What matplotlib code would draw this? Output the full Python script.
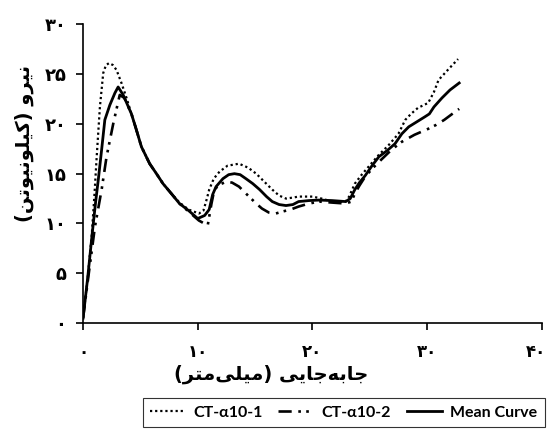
import matplotlib.pyplot as plt
from matplotlib.transforms import ScaledTranslation

# --------------------------------------
# data (displacement mm, force kN)

x_ct1 = [0, 0.4, 0.75, 1.0, 1.19, 1.47, 1.76, 2.0, 2.28, 2.6, 2.92, 3.35, 3.79,
         4.22, 4.65, 5.09, 5.81, 6.4, 6.97, 7.7, 8.41, 9.2, 10.1, 10.5, 10.8,
         11.0, 11.4, 11.9, 12.6, 13.6, 14.4, 15.1, 15.8, 16.5, 17.1, 17.7, 18.3,
         18.8, 20.0, 20.8, 21.7, 22.9, 23.2, 23.7, 24.3, 24.9, 25.8, 26.6, 27.5,
         28.1, 28.6, 29.2, 30.1, 30.6, 31.0, 31.8, 32.7]
y_ct1 = [0.5, 4.5, 8.7, 13.0, 16.7, 21.7, 25.1, 25.9, 26.1, 25.9, 25.4, 24.1, 22.6,
         21.0, 19.4, 17.7, 16.0, 15.0, 14.0, 13.0, 12.1, 11.4, 11.0, 11.3, 12.5,
         13.4, 14.5, 15.2, 15.8, 16.0, 15.6, 15.0, 14.2, 13.4, 12.8, 12.5, 12.6,
         12.7, 12.7, 12.5, 12.2, 12.2, 12.7, 14.0, 14.9, 15.7, 16.9, 17.8, 19.0,
         20.4, 21.0, 21.6, 22.1, 23.2, 24.4, 25.4, 26.5]

x_ct2 = [0, 0.5, 1.04, 1.62, 2.05, 2.63, 3.06, 3.2, 3.6, 4.22, 4.65, 5.09, 5.81,
         6.4, 6.97, 7.7, 8.41, 9.4, 10.1, 10.87, 11.2, 11.45, 11.9, 12.5, 13.0,
         13.6, 14.3, 15.1, 15.6, 16.2, 16.8, 17.4, 18.1, 18.8, 19.7, 20.6, 21.7,
         22.9, 23.4, 23.7, 24.1, 24.6, 25.3, 26.0, 26.9, 27.8, 28.9, 29.5, 30.1,
         30.8, 31.5, 32.2, 32.8]
y_ct2 = [0.5, 5.0, 9.7, 13.4, 16.7, 20.0, 22.2, 22.9, 22.6, 21.0, 19.4, 17.7, 16.0,
         15.0, 14.0, 13.0, 12.0, 11.0, 10.3, 9.8, 12.0, 13.4, 13.9, 14.2, 14.1,
         13.7, 12.9, 12.0, 11.5, 11.1, 11.0, 11.2, 11.4, 11.7, 12.0, 12.2, 12.1,
         12.0, 12.2, 13.0, 13.8, 14.7, 15.6, 16.4, 17.4, 18.2, 18.9, 19.2, 19.5,
         19.9, 20.4, 21.0, 21.5]

x_mean = [0, 0.4, 0.8, 1.1, 1.33, 1.62, 1.9, 2.34, 2.78, 3.06, 3.5, 4.22, 4.65,
          5.09, 5.81, 6.4, 6.97, 7.7, 8.41, 9.2, 10.0, 10.6, 11.0, 11.3, 11.6,
          12.2, 12.7, 13.2, 13.7, 14.2, 14.8, 15.4, 16.0, 16.5, 17.1, 17.7, 18.3,
          18.8, 19.7, 20.6, 21.7, 22.9, 23.3, 23.7, 24.1, 24.6, 25.2, 25.8, 26.5,
          27.2, 27.8, 28.4, 29.1, 29.8, 30.2, 30.6, 31.3, 32.0, 32.8]
y_mean = [0.5, 4.5, 9.0, 12.2, 14.4, 17.4, 20.4, 21.9, 23.1, 23.7, 22.9, 21.0, 19.4,
          17.7, 16.0, 15.0, 14.0, 13.0, 12.0, 11.3, 10.5, 10.8, 11.4, 12.9, 13.7,
          14.5, 14.9, 15.0, 14.9, 14.5, 14.0, 13.4, 12.7, 12.2, 11.9, 11.8, 11.9,
          12.2, 12.3, 12.35, 12.3, 12.2, 12.5, 13.4, 14.1, 14.8, 15.8, 16.7, 17.3,
          18.0, 19.0, 19.7, 20.2, 20.7, 21.0, 21.7, 22.6, 23.4, 24.1]

x_ticks = [0, 10, 20, 30, 40]
y_ticks = [0, 5, 10, 15, 20, 25, 30]
x_tick_labels = ["۰", "۱۰", "۲۰", "۳۰", "۴۰"]
y_tick_labels = ["۰", "۵", "۱۰", "۱۵", "۲۰", "۲۵", "۳۰"]

# Persian labels written in shaped (presentation) forms, visual order,
# because matplotlib does no Arabic shaping
x_label = "(\uFEAE\uFE98\uFEE3\uFBFD\uFEE0\uFBFF\uFEE3) \uFBFD\uFBFE\uFE8E\uFE9F\uFEEA\uFE91\uFE8E\uFE9F"
y_label = "(\uFEE6\uFE97\uFEEE\uFBFF\uFEE7\uFEEE\uFEE0\uFBFF\uFB90) \uFEED\uFEAE\uFBFF\uFEE7"

series_names = ["CT-\u03b110-1", "CT-\u03b110-2", "Mean Curve"]

# --------------------------------------

fig = plt.figure(figsize=(5.5, 4.32), dpi=100)
ax = fig.add_axes([0.151, 0.252, 0.834, 0.692])

l1, = ax.plot(x_ct1, y_ct1, color="black", lw=1.6, linestyle=(0, (1, 1.3)))
l2, = ax.plot(x_ct2, y_ct2, color="black", lw=1.9,
              linestyle=(0, (5, 2.5, 1, 2, 1, 2.5)))
l3, = ax.plot(x_mean, y_mean, color="black", lw=2.0)

ax.set_xlim(0, 40)
ax.set_ylim(0, 30)
ax.spines["top"].set_visible(False)
ax.spines["right"].set_visible(False)
ax.spines["left"].set_linewidth(1.2)
ax.spines["bottom"].set_linewidth(1.2)

ax.set_xticks(x_ticks)
ax.set_xticklabels(x_tick_labels, fontsize=12, fontweight="bold")
ax.set_yticks(y_ticks)
ax.set_yticklabels(y_tick_labels, fontsize=13, fontweight="bold")
ax.tick_params(axis="x", direction="out", length=5, width=1.2, pad=9)
ax.tick_params(axis="y", direction="out", length=5, width=1.2, pad=7)

# last x label sits at the right edge of the figure, nudge it in a little
last = ax.get_xticklabels()[-1]
last.set_transform(last.get_transform() + ScaledTranslation(-4 / 72, 0, fig.dpi_scale_trans))

ax.set_xlabel(x_label, fontsize=14, fontweight="bold")
ax.xaxis.set_label_coords(0.41, -0.14)
ax.set_ylabel(y_label, fontsize=14, fontweight="bold")
ax.yaxis.set_label_coords(-0.108, 0.6)

leg = fig.legend([l1, l2, l3], series_names, loc="lower right",
                 bbox_to_anchor=(0.99, 0.012), ncol=3, frameon=True,
                 fancybox=False, edgecolor="black", handlelength=2.2,
                 columnspacing=1.0, handletextpad=0.5, borderpad=0.45,
                 borderaxespad=0,
                 prop={"family": ["Lato", "DejaVu Sans"], "weight": "bold", "size": 11.5})
leg.get_frame().set_linewidth(0.8)

fig.savefig("out.png", dpi=100)
